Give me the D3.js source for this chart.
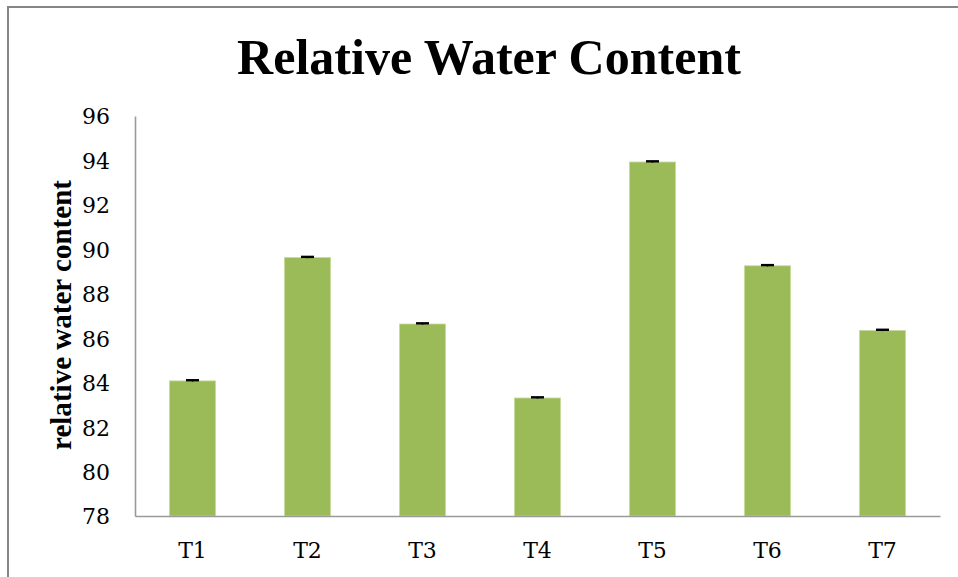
<!DOCTYPE html>
<html><head><meta charset="utf-8">
<script src="https://cdn.jsdelivr.net/npm/d3@7"></script>
<style>body{margin:0;background:#fff;} svg{display:block;}</style>
</head><body>
<svg id="chart" width="958" height="577"></svg>
<script>
const titleText = "Relative Water Content";
const yTitle = "relative water content";
const categories = ["T1","T2","T3","T4","T5","T6","T7"];
const values = [84.08, 89.63, 86.64, 83.31, 93.93, 89.26, 86.35];
const errors = [0.03, 0.03, 0.03, 0.03, 0.03, 0.03, 0.03];
const yTicks = [78,80,82,84,86,88,90,92,94,96];

const svg = d3.select("#chart");
const mLeft = 135, mTop = 116, pW = 805, pH = 400;

// outer border
svg.append("rect").attr("x",8).attr("y",7).attr("width",1000).attr("height",700)
  .attr("fill","#fff").attr("stroke","#868686").attr("stroke-width",2);

function fitText(sel, target){
  const w = sel.node().getComputedTextLength();
  const fs = parseFloat(sel.attr("font-size"));
  sel.attr("font-size", fs*target/w);
}

const x = d3.scaleBand().domain(categories).range([mLeft,mLeft+pW]).paddingInner(0.6).paddingOuter(0.3);
const y = d3.scaleLinear().domain([78,96]).range([mTop+pH, mTop]);

// title
const t = svg.append("text").attr("x",489).attr("y",74).attr("text-anchor","middle")
  .attr("font-family","'Liberation Serif', serif").attr("font-weight","bold").attr("font-size",48)
  .attr("fill","#000").text(titleText);
fitText(t, 504);

// bars
svg.append("g").selectAll("rect").data(categories).join("rect")
  .attr("x",d=>x(d)).attr("width",x.bandwidth())
  .attr("y",(d,i)=>y(values[i])).attr("height",(d,i)=>y(78)-y(values[i]))
  .attr("fill","#9BBB59").attr("stroke","#c6da9c").attr("stroke-width",0.8);

// error bars
const eg = svg.append("g");
categories.forEach((c,i)=>{
  const cx = x(c)+x.bandwidth()/2;
  eg.append("line").attr("x1",cx).attr("x2",cx).attr("y1",y(values[i]-errors[i])).attr("y2",y(values[i]+errors[i]))
    .attr("stroke","#000").attr("stroke-width",1.5);
  eg.append("rect").attr("x",cx-6.5).attr("width",13).attr("y",y(values[i]+errors[i])-1.2).attr("height",2.4).attr("fill","#000");
});

// y axis
const ya = d3.axisLeft(y).tickValues(yTicks).tickSize(0).tickPadding(25);
const yg = svg.append("g").attr("transform",`translate(${mLeft},0)`).call(ya);
yg.select(".domain").attr("stroke","#9a9a9a").attr("stroke-width",1.6);
yg.selectAll("text").attr("font-family","'DejaVu Serif', serif").attr("font-size",22).attr("fill","#000").attr("dy","0.36em");

// x axis
const xa = d3.axisBottom(x).tickSize(0).tickPadding(26);
const xg = svg.append("g").attr("transform",`translate(0,${mTop+pH})`).call(xa);
xg.select(".domain").attr("stroke","#9a9a9a").attr("stroke-width",1.6);
xg.selectAll("text").attr("font-family","'DejaVu Serif', serif").attr("font-size",22).attr("fill","#000");

// y title
const yt = svg.append("text").attr("transform","translate(71,315) rotate(-90)").attr("text-anchor","middle")
  .attr("font-family","'Liberation Serif', serif").attr("font-weight","bold").attr("font-size",22)
  .attr("fill","#000").text(yTitle);
fitText(yt, 270);
</script>
</body></html>
